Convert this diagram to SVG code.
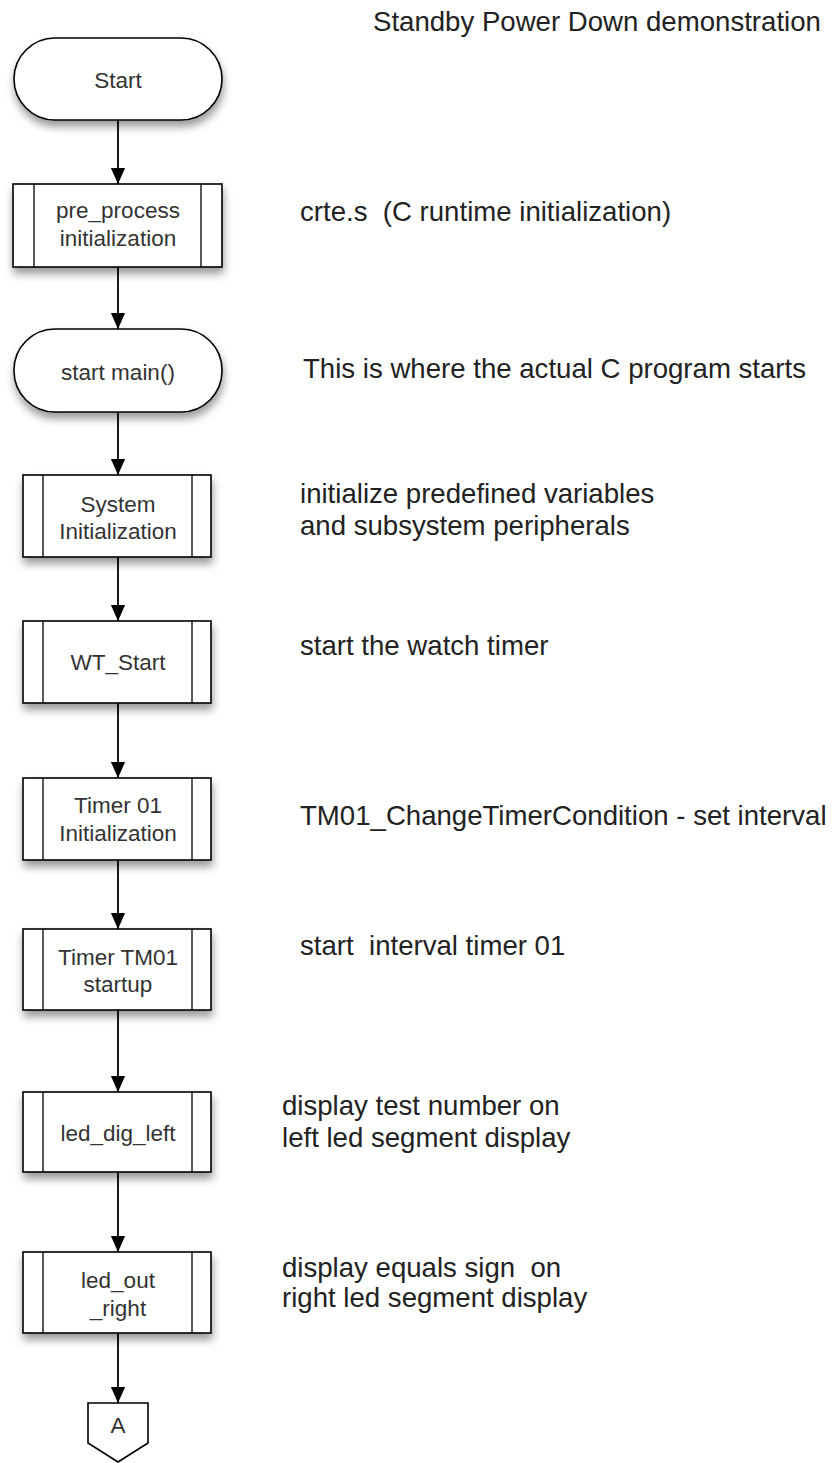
<svg xmlns="http://www.w3.org/2000/svg" width="838" height="1463" viewBox="0 0 838 1463">
<style>
.shape{fill:#fff;stroke:#000;stroke-width:1.6}
.inner{fill:none;stroke:#000;stroke-width:1.3}
.lbl{font-family:"Liberation Sans",Arial,sans-serif;font-size:22.5px;fill:#333;text-anchor:middle}
.note{font-family:"Liberation Sans",Arial,sans-serif;font-size:27.6px;fill:#222;white-space:pre}
.conn{stroke:#000;stroke-width:1.8;fill:none;marker-end:url(#arrow)}
</style>
<defs>
<marker id="arrow" markerUnits="userSpaceOnUse" markerWidth="16" markerHeight="18" refX="18" refY="8" orient="auto" viewBox="0 0 18 16">
<path d="M0,0 L18,8 L0,16 z" fill="#000"/>
</marker>
<filter id="shadow" x="-20%" y="-20%" width="140%" height="160%">
<feDropShadow dx="1" dy="6" stdDeviation="4.5" flood-color="#000" flood-opacity="0.4"/>
</filter>
</defs>
<rect width="838" height="1463" fill="#fff"/>
<text class="note" x="373" y="31">Standby Power Down demonstration</text>

<g id="connectors">
<line class="conn" x1="118" y1="120" x2="118" y2="184"/>
<line class="conn" x1="118" y1="267" x2="118" y2="329"/>
<line class="conn" x1="118" y1="412" x2="118" y2="475"/>
<line class="conn" x1="118" y1="557" x2="118" y2="621"/>
<line class="conn" x1="118" y1="703" x2="118" y2="778"/>
<line class="conn" x1="118" y1="860" x2="118" y2="929"/>
<line class="conn" x1="118" y1="1010" x2="118" y2="1092"/>
<line class="conn" x1="118" y1="1172" x2="118" y2="1252"/>
<line class="conn" x1="118" y1="1333" x2="118" y2="1403"/>
</g>

<g id="start">
<rect class="shape" filter="url(#shadow)" x="14" y="38" width="208" height="82" rx="41" ry="41"/>
<text class="lbl" x="118" y="88">Start</text>
</g>

<g id="pre_process">
<rect class="shape" filter="url(#shadow)" x="13" y="184" width="209" height="83"/>
<line class="inner" x1="34" y1="184" x2="34" y2="267"/>
<line class="inner" x1="201" y1="184" x2="201" y2="267"/>
<text class="lbl" x="118" y="218">pre_process</text>
<text class="lbl" x="118" y="246">initialization</text>
</g>
<text class="note" xml:space="preserve" x="300" y="221">crte.s  (C runtime initialization)</text>

<g id="start_main">
<rect class="shape" filter="url(#shadow)" x="14" y="329" width="208" height="83" rx="41" ry="41"/>
<text class="lbl" x="118" y="380">start main()</text>
</g>
<text class="note" x="303" y="378">This is where the actual C program starts</text>

<g id="system_init">
<rect class="shape" filter="url(#shadow)" x="23" y="475" width="188" height="82"/>
<line class="inner" x1="43" y1="475" x2="43" y2="557"/>
<line class="inner" x1="192" y1="475" x2="192" y2="557"/>
<text class="lbl" x="118" y="512">System</text>
<text class="lbl" x="118" y="539">Initialization</text>
</g>
<text class="note" x="300" y="503">initialize predefined variables</text>
<text class="note" x="300" y="535">and subsystem peripherals</text>

<g id="wt_start">
<rect class="shape" filter="url(#shadow)" x="23" y="621" width="188" height="82"/>
<line class="inner" x1="43" y1="621" x2="43" y2="703"/>
<line class="inner" x1="192" y1="621" x2="192" y2="703"/>
<text class="lbl" x="118" y="670">WT_Start</text>
</g>
<text class="note" x="300" y="655">start the watch timer</text>

<g id="timer01_init">
<rect class="shape" filter="url(#shadow)" x="23" y="778" width="188" height="82"/>
<line class="inner" x1="43" y1="778" x2="43" y2="860"/>
<line class="inner" x1="192" y1="778" x2="192" y2="860"/>
<text class="lbl" x="118" y="813">Timer 01</text>
<text class="lbl" x="118" y="841">Initialization</text>
</g>
<text class="note" x="300" y="825">TM01_ChangeTimerCondition - set interval</text>

<g id="timer_tm01_startup">
<rect class="shape" filter="url(#shadow)" x="23" y="929" width="188" height="81"/>
<line class="inner" x1="43" y1="929" x2="43" y2="1010"/>
<line class="inner" x1="192" y1="929" x2="192" y2="1010"/>
<text class="lbl" x="118" y="965">Timer TM01</text>
<text class="lbl" x="118" y="992">startup</text>
</g>
<text class="note" xml:space="preserve" x="300" y="955">start  interval timer 01</text>

<g id="led_dig_left">
<rect class="shape" filter="url(#shadow)" x="23" y="1092" width="188" height="80"/>
<line class="inner" x1="43" y1="1092" x2="43" y2="1172"/>
<line class="inner" x1="192" y1="1092" x2="192" y2="1172"/>
<text class="lbl" x="118" y="1141">led_dig_left</text>
</g>
<text class="note" x="282" y="1115">display test number on</text>
<text class="note" x="282" y="1147">left led segment display</text>

<g id="led_out_right">
<rect class="shape" filter="url(#shadow)" x="23" y="1252" width="188" height="81"/>
<line class="inner" x1="43" y1="1252" x2="43" y2="1333"/>
<line class="inner" x1="192" y1="1252" x2="192" y2="1333"/>
<text class="lbl" x="118" y="1288">led_out</text>
<text class="lbl" x="118" y="1316">_right</text>
</g>
<text class="note" xml:space="preserve" x="282" y="1277">display equals sign  on</text>
<text class="note" x="282" y="1307">right led segment display</text>

<g id="connector_a">
<polygon class="shape" points="88,1403 148,1403 148,1443 118,1462 88,1443"/>
<text class="lbl" x="118" y="1433">A</text>
</g>
</svg>
